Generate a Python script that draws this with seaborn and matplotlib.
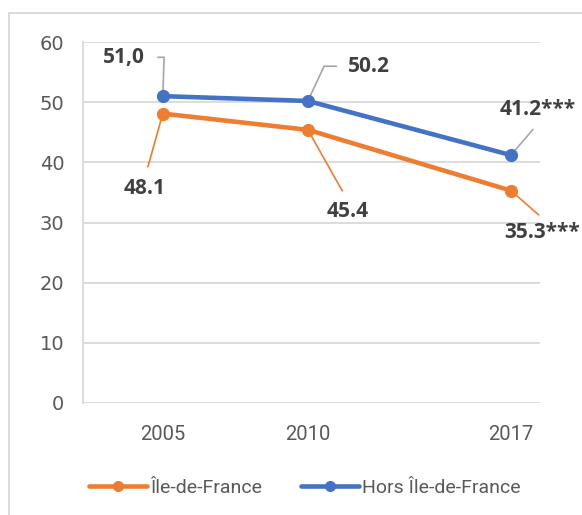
import numpy as np
import pandas as pd
import matplotlib
matplotlib.use("Agg")
import matplotlib.pyplot as plt
from matplotlib.lines import Line2D
import seaborn as sns

# data
annees = [2005, 2010, 2017]
idf = [48.1, 45.4, 35.3]
hors_idf = [51.0, 50.2, 41.2]
labels_idf = ["48.1", "45.4", "35.3***"]
labels_hors = ["51,0", "50.2", "41.2***"]
series = ["Île-de-France", "Hors Île-de-France"]
yticks = [0, 10, 20, 30, 40, 50, 60]

orange = "#ED7D31"
bleu = "#4472C4"
gris = "#D9D9D9"
texte = "#404040"
narrow = ["Roboto", "DejaVu Sans"]

df = pd.DataFrame({
    "annee": annees * 2,
    "valeur": idf + hors_idf,
    "zone": [series[0]] * 3 + [series[1]] * 3,
})

sns.set_theme(style="white")
W, H = 582, 515
fig = plt.figure(figsize=(W / 100, H / 100), dpi=100)
ax = fig.add_axes([83 / W, 1 - 403 / H, (540 - 83) / W, (403 - 42) / H])

sns.lineplot(data=df, x="annee", y="valeur", hue="zone", hue_order=series,
             palette=[orange, bleu], marker="o", markersize=9.5,
             markeredgewidth=0, linewidth=3.3, ax=ax, legend=False, zorder=3)

ax.set_xlim(2002.25, 2018)
ax.set_ylim(0, 60)
ax.set_yticks(yticks)
ax.set_xticks(annees)
ax.set_xlabel("")
ax.set_ylabel("")
ax.grid(axis="y", color=gris, linewidth=1.3)
ax.set_axisbelow(True)
for s in ["top", "right", "bottom"]:
    ax.spines[s].set_visible(False)
ax.spines["left"].set_color(gris)
ax.spines["left"].set_linewidth(1.3)
ax.tick_params(axis="y", length=5.5, width=1.3, color=gris, pad=8,
               labelsize=14, labelcolor="#595959")
ax.tick_params(axis="x", length=0, pad=16, labelsize=14.5, labelcolor="#595959")
for t in ax.get_yticklabels():
    t.set_family(["DejaVu Sans"])
for t in ax.get_xticklabels():
    t.set_family(narrow)

# data labels with leader lines (offsets in points)
lab_font = dict(fontsize=15, fontweight="bold", color=texte,
                family=["Open Sans", "DejaVu Sans"])
hors_layout = [
    dict(off=(-28, 28), ha="center", rel=(1, 0.5), cs="angle,angleA=0,angleB=88,rad=0", sa=7),
    dict(off=(44, 25), ha="center", rel=(0, 0.5), cs="angle,angleA=0,angleB=65,rad=0", sa=6),
    dict(off=(19, 33), ha="center", rel=(0.55, 0), cs="arc3", sa=6),
]
idf_layout = [
    dict(off=(-13, -54), ha="center", rel=(0.5, 1), cs="arc3", sa=6),
    dict(off=(29, -59), ha="center", rel=(0.5, 1), cs="arc3", sa=6),
    dict(off=(-5, -30), ha="left", rel=(0.56, 1), cs="arc3", sa=4),
]
for vals, labs, lay, col in [(hors_idf, labels_hors, hors_layout, "#A6A6A6"),
                             (idf, labels_idf, idf_layout, orange)]:
    for x, y, lab, L in zip(annees, vals, labs, lay):
        ax.annotate(lab, xy=(x, y), xytext=L["off"], textcoords="offset points",
                    ha=L["ha"], va="center", annotation_clip=False,
                    arrowprops=dict(arrowstyle="-", color=col, lw=1.2,
                                    connectionstyle=L["cs"], relpos=L["rel"],
                                    shrinkA=L["sa"], shrinkB=3),
                    zorder=2, **lab_font)

# legend
handles = [Line2D([], [], color=c, lw=3.3, marker="o", markersize=8,
                  markeredgewidth=0) for c in (orange, bleu)]
fig.legend(handles, series, loc="center", bbox_to_anchor=(305 / W, 1 - 488 / H),
           ncol=2, frameon=False, handlelength=3.0, handletextpad=0.15,
           columnspacing=2.0, prop={"family": narrow, "size": 14},
           labelcolor="#595959")

# chart area border (cut at right and bottom)
fig.add_artist(Line2D([9 / W, 9 / W], [0, 1 - 13 / H], color=gris, lw=1.3,
                      transform=fig.transFigure))
fig.add_artist(Line2D([9 / W, 1], [1 - 13 / H, 1 - 13 / H], color=gris, lw=1.3,
                      transform=fig.transFigure))

fig.savefig("out.png", dpi=100, facecolor="white")
